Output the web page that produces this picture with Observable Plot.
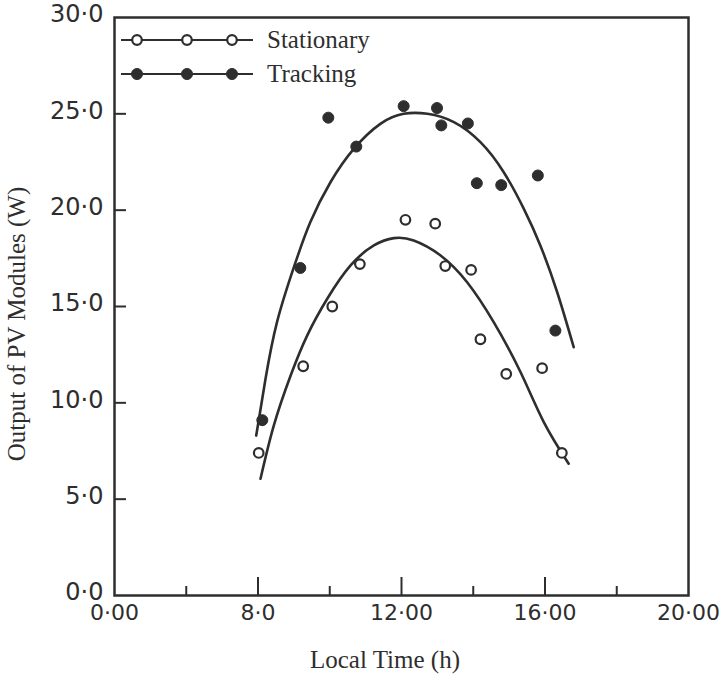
<!DOCTYPE html>
<html>
<head>
<meta charset="utf-8">
<script src="https://cdn.jsdelivr.net/npm/d3@7"></script>
<script src="https://cdn.jsdelivr.net/npm/@observablehq/plot@0.6"></script>
<style>
  html, body { margin: 0; padding: 0; background: #fff; }
  #chart svg { display: block; }
</style>
</head>
<body>
<div id="chart"></div>
<script>
// ---- data ----
const xTickValues = [0, 8, 12, 16, 20];
const xTickLabels = ["0·00", "8·0", "12·00", "16·00", "20·00"];
const xMinorTicks = [4, 10, 14, 18];
const xMajorInner = [8, 12, 16];
const yTickValues = [0, 5, 10, 15, 20, 25, 30];
const yTickLabels = ["0·0", "5·0", "10·0", "15·0", "20·0", "25·0", "30·0"];

const trackingTime   = [8.12, 9.18, 9.96, 10.74, 12.06, 12.99, 13.11, 13.85, 14.10, 14.78, 15.80, 16.29];
const trackingOutput = [9.1, 17.0, 24.8, 23.3, 25.4, 25.3, 24.4, 24.5, 21.4, 21.3, 21.8, 13.75];

const stationaryTime   = [8.02, 9.26, 10.07, 10.84, 12.11, 12.94, 13.22, 13.94, 14.20, 14.92, 15.92, 16.47];
const stationaryOutput = [7.4, 11.9, 15.0, 17.2, 19.5, 19.3, 17.1, 16.9, 13.3, 11.5, 11.8, 7.4];

// fitted curves, points
const trackingCurveTime   = [7.90, 8.21, 8.53, 9.00, 9.46, 10.02, 10.67, 11.41, 12.06, 12.72, 13.46, 14.20, 14.85, 15.41, 15.87, 16.34, 16.80];
const trackingCurveOutput = [8.30, 11.25, 14.19, 17.04, 19.38, 21.45, 23.18, 24.48, 25.0, 25.0, 24.57, 23.53, 21.97, 20.07, 18.17, 15.74, 12.89];

const stationaryCurveTime   = [8.07, 8.44, 8.91, 9.37, 9.93, 10.58, 11.23, 11.79, 12.34, 13.09, 13.83, 14.57, 15.32, 15.97, 16.66];
const stationaryCurveOutput = [6.06, 8.82, 11.42, 13.49, 15.4, 17.13, 18.17, 18.55, 18.43, 17.65, 16.26, 14.19, 11.59, 8.99, 6.84];

const seriesNames = ["Stationary", "Tracking"];
const xTitle = "Local Time (h)";
const yTitle = "Output of PV Modules (W)";

// ---- layout ----
const W = 723, H = 678;
const mL = 114, mR = 35, mT = 17, mB = 83;
const innerW = W - mL - mR, innerH = H - mT - mB;
const ink = "#2e2e2e";
const serif = "'Liberation Serif', 'Times New Roman', serif";
const sans = "'DejaVu Sans', sans-serif";

const zip = (xs, ys) => xs.map((x, i) => ({x, y: ys[i]}));
const tracking = zip(trackingTime, trackingOutput);
const stationary = zip(stationaryTime, stationaryOutput);
const trackingCurve = zip(trackingCurveTime, trackingCurveOutput);
const stationaryCurve = zip(stationaryCurveTime, stationaryCurveOutput);

const xRange = xTickValues.map((_, i) => mL + i * innerW / (xTickValues.length - 1));

const chart = Plot.plot({
  width: W,
  height: H,
  marginLeft: mL,
  marginRight: mR,
  marginTop: mT,
  marginBottom: mB,
  style: {background: "#fff", color: ink},
  x: {type: "linear", domain: xTickValues, range: xRange},
  y: {domain: [0, 30]},
  marks: [
    // inward ticks
    Plot.tickY(yTickValues.slice(1, -1), {y: d => d, stroke: ink, strokeWidth: 2, insetRight: innerW - 12}),
    Plot.tickX(xMajorInner, {x: d => d, stroke: ink, strokeWidth: 2, insetTop: innerH - 18}),
    Plot.tickX(xMinorTicks, {x: d => d, stroke: ink, strokeWidth: 2, insetTop: innerH - 9}),
    Plot.frame({stroke: ink, strokeWidth: 2.5}),
    // tick labels
    Plot.axisY(yTickValues, {
      tickSize: 0, tickPadding: 11, dy: -3,
      tickFormat: d => yTickLabels[yTickValues.indexOf(d)],
      fontSize: 24, fontFamily: sans, fill: ink,
      label: null
    }),
    Plot.axisX(xTickValues, {
      tickSize: 0, tickPadding: 9,
      tickFormat: d => xTickLabels[xTickValues.indexOf(d)],
      fontSize: 22, fontFamily: sans, fill: ink,
      label: null
    }),
    // curves
    Plot.line(trackingCurve, {x: "x", y: "y", curve: "natural", stroke: ink, strokeWidth: 2.6}),
    Plot.line(stationaryCurve, {x: "x", y: "y", curve: "natural", stroke: ink, strokeWidth: 2.6}),
    // points
    Plot.dot(tracking, {x: "x", y: "y", r: 5.5, fill: ink, stroke: ink, strokeWidth: 1}),
    Plot.dot(stationary, {x: "x", y: "y", r: 4.8, fill: "#fff", stroke: ink, strokeWidth: 2.2})
  ]
});

document.getElementById("chart").appendChild(chart);

const svg = d3.select(chart);

// axis titles
svg.append("text")
  .attr("x", 385).attr("y", 668)
  .attr("text-anchor", "middle")
  .attr("font-family", serif).attr("font-size", 25)
  .attr("fill", ink)
  .text(xTitle);

svg.append("text")
  .attr("transform", "translate(25,324) rotate(-90)")
  .attr("text-anchor", "middle")
  .attr("font-family", serif).attr("font-size", 25)
  .attr("fill", ink)
  .text(yTitle);

// legend (inside top-left of frame)
const legend = svg.append("g").attr("aria-label", "legend");
seriesNames.forEach((name, i) => {
  const ly = 40 + i * 34;
  legend.append("line")
    .attr("x1", 121).attr("x2", 253).attr("y1", ly).attr("y2", ly)
    .attr("stroke", ink).attr("stroke-width", 2.2);
  [137, 187, 232].forEach(cx => {
    legend.append("circle")
      .attr("cx", cx).attr("cy", ly).attr("r", i === 0 ? 4.8 : 5.5)
      .attr("fill", i === 0 ? "#fff" : ink)
      .attr("stroke", ink).attr("stroke-width", i === 0 ? 2.2 : 1);
  });
  legend.append("text")
    .attr("x", 267).attr("y", ly + 8)
    .attr("text-anchor", "start")
    .attr("font-family", serif).attr("font-size", 25)
    .attr("fill", ink)
    .text(name);
});
</script>
</body>
</html>
